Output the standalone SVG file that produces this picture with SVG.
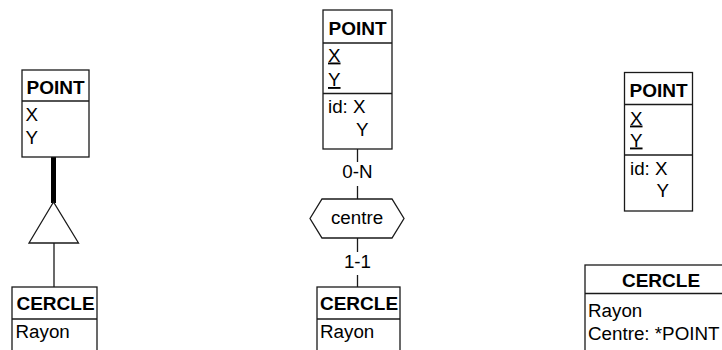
<svg xmlns="http://www.w3.org/2000/svg" width="722" height="350" viewBox="0 0 722 350">
  <style>
    .box { fill: #fff; stroke: #1a1a1a; stroke-width: 1.3; }
    .sep { stroke: #1a1a1a; stroke-width: 1.3; }
    .edge { fill: none; stroke: #1a1a1a; stroke-width: 1.3; }
    .title { font-family: "Liberation Sans", Arial, sans-serif; font-weight: bold; font-size: 19px; fill: #000; text-anchor: middle; }
    .attr { font-family: "Liberation Sans", Arial, sans-serif; font-size: 18.8px; fill: #000; }
    .lbl { font-family: "Liberation Sans", Arial, sans-serif; font-size: 18.8px; fill: #000; text-anchor: middle; }
    .id { text-decoration: underline; text-decoration-thickness: 2px; text-underline-offset: 3px; }
  </style>
  <rect width="722" height="350" fill="#fff"/>

  <!-- connectors -->
  <g id="connectors">
    <!-- is-a link: left -->
    <line x1="53.5" y1="157" x2="53.5" y2="203" stroke="#000" stroke-width="5"/>
    <polygon class="edge" points="53.5,202 29,243 78.5,243"/>
    <line class="edge" x1="54" y1="243" x2="54" y2="287"/>
    <!-- relationship "centre" links -->
    <line class="edge" x1="357.5" y1="149" x2="357.5" y2="162"/>
    <text class="lbl" x="357.5" y="178">0-N</text>
    <line class="edge" x1="357.5" y1="186" x2="357.5" y2="199"/>
    <line class="edge" x1="357.5" y1="238" x2="357.5" y2="252"/>
    <text class="lbl" x="357.5" y="268">1-1</text>
    <line class="edge" x1="357.5" y1="275" x2="357.5" y2="287"/>
  </g>

  <!-- left: POINT supertype of CERCLE -->
  <g id="point-left">
    <rect class="box" x="22" y="70" width="67" height="87"/>
    <line class="sep" x1="22" y1="101" x2="89" y2="101"/>
    <text class="title" x="55.5" y="94">POINT</text>
    <text class="attr" x="25.5" y="121">X</text>
    <text class="attr" x="25.5" y="144">Y</text>
  </g>
  <g id="cercle-left">
    <rect class="box" x="12" y="287" width="85" height="80"/>
    <line class="sep" x1="12" y1="319" x2="97" y2="319"/>
    <text class="title" x="55.5" y="310">CERCLE</text>
    <text class="attr" x="15.5" y="338">Rayon</text>
  </g>

  <!-- middle: POINT and CERCLE linked by "centre" -->
  <g id="point-mid">
    <rect class="box" x="323" y="10" width="69" height="139"/>
    <line class="sep" x1="323" y1="43" x2="392" y2="43"/>
    <line class="sep" x1="323" y1="93.5" x2="392" y2="93.5"/>
    <text class="title" x="357.5" y="35">POINT</text>
    <text class="attr id" x="328" y="61.5">X</text>
    <text class="attr id" x="328" y="86">Y</text>
    <text class="attr" x="328" y="113">id: X</text>
    <text class="attr" x="356" y="136">Y</text>
  </g>
  <g id="centre">
    <polygon class="box" points="310,218.5 322,199 392,199 404,218.5 392,238 322,238"/>
    <text class="lbl" x="357" y="223.5">centre</text>
  </g>
  <g id="cercle-mid">
    <rect class="box" x="317" y="287" width="83" height="80"/>
    <line class="sep" x1="317" y1="319" x2="400" y2="319"/>
    <text class="title" x="359" y="310">CERCLE</text>
    <text class="attr" x="320" y="338">Rayon</text>
  </g>

  <!-- right: CERCLE references POINT by foreign key -->
  <g id="point-right">
    <rect class="box" x="624.5" y="72.5" width="68" height="138.5"/>
    <line class="sep" x1="624.5" y1="104.5" x2="692.5" y2="104.5"/>
    <line class="sep" x1="624.5" y1="155" x2="692.5" y2="155"/>
    <text class="title" x="658.5" y="96.5">POINT</text>
    <text class="attr id" x="630" y="124.5">X</text>
    <text class="attr id" x="630" y="146.5">Y</text>
    <text class="attr" x="630" y="175">id: X</text>
    <text class="attr" x="656.5" y="196.5">Y</text>
  </g>
  <g id="cercle-right">
    <rect class="box" x="585" y="265" width="160" height="110"/>
    <line class="sep" x1="585" y1="293.5" x2="745" y2="293.5"/>
    <text class="title" x="661" y="286.5">CERCLE</text>
    <text class="attr" x="588" y="316.5">Rayon</text>
    <text class="attr" x="588" y="340">Centre: *POINT</text>
  </g>
</svg>
